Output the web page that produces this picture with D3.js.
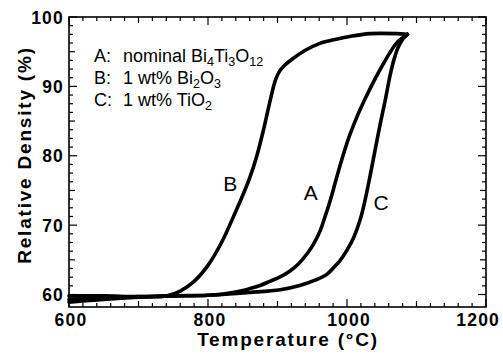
<!DOCTYPE html>
<meta charset="utf-8">
<style>
    body { margin: 0; background: #fff; }
    text { font-family: "Liberation Sans", Arial, sans-serif; fill: #000; }
    .tick-label { font-size: 17.5px; font-weight: bold; letter-spacing: 1.2px; }
    .axis-title { font-size: 19px; font-weight: bold; letter-spacing: 1.8px; }
    .legend { font-size: 18px; }
    .curve-label { font-size: 21px; }
</style>
<body>
<script src="https://d3js.org/d3.v7.min.js"></script>
<script>
    // curve A: nominal Bi4Ti3O12
    var tempA = [600, 650, 700, 750, 800, 820, 840, 860, 875, 889, 903, 918, 930, 942, 952, 961, 969, 976, 983, 990, 997, 1004, 1016, 1028, 1040, 1052, 1062, 1071, 1080, 1087];
    var densA = [59.3, 59.5, 59.7, 59.8, 59.9, 60.05, 60.35, 60.85, 61.3, 61.9, 62.5, 63.4, 64.4, 65.8, 67.3, 69.1, 71.4, 73.6, 76.1, 78.6, 80.9, 83.0, 86.0, 88.6, 91.0, 93.2, 94.9, 96.2, 97.0, 97.5];

    // curve B: 1 wt% Bi2O3
    var tempB = [600, 650, 700, 740, 760, 780, 800, 820, 840, 850, 860, 870, 880, 890, 897, 903, 910, 918, 940, 961, 985, 1004, 1033, 1071, 1087];
    var densB = [59.8, 59.8, 59.7, 59.8, 60.5, 61.9, 64.2, 67.6, 72.0, 74.3, 76.8, 79.9, 83.8, 88.2, 90.9, 92.2, 93.0, 93.7, 95.2, 96.2, 96.8, 97.2, 97.6, 97.6, 97.5];

    // curve C: 1 wt% TiO2
    var tempC = [600, 650, 700, 750, 800, 860, 904, 932, 955, 971, 980, 990, 1000, 1010, 1019, 1026, 1033, 1040, 1047, 1055, 1062, 1068, 1074, 1081, 1087];
    var densC = [58.9, 59.3, 59.6, 59.8, 59.9, 60.3, 60.7, 61.3, 62.1, 62.9, 63.8, 64.9, 66.4, 68.3, 70.8, 73.6, 77.0, 80.6, 84.2, 88.0, 91.6, 94.0, 95.7, 96.9, 97.5];

    var xTickLabels = [600, 800, 1000, 1200];
    var yTickLabels = [60, 70, 80, 90, 100];

    var curveNames = ["A", "B", "C"];
    var labelTemps = [948, 832, 1049];
    var labelDens = [73.6, 74.9, 72.2];

    var legendKeys = ["A:", "B:", "C:"];

    var width = 503,
        height = 361;
    var margin = { top: 17, right: 17, bottom: 54, left: 69 };

    var x = d3.scaleLinear().domain([600, 1200]).range([margin.left, width - margin.right]);
    var y = d3.scaleLinear().domain([58.2, 100]).range([height - margin.bottom, margin.top]);

    var svg = d3.select("body").append("svg")
        .attr("width", width)
        .attr("height", height);

    var x0 = x.range()[0], x1 = x.range()[1];
    var y0 = y.range()[0], y1 = y.range()[1];

    // inward ticks on all four sides
    var xTicks = d3.range(600, 1201, 20);
    function xLen(t) { return t % 200 == 0 ? 8 : (t % 100 == 0 ? 6 : 4); }
    var yTicks = d3.range(60, 100.01, 1.25);
    function yLen(v) { return v % 10 == 0 ? 8 : (v % 5 == 0 ? 6 : 4); }

    var ticks = svg.append("g").attr("stroke", "#000").attr("stroke-width", 1.2);
    xTicks.forEach(function (t) {
        ticks.append("line").attr("x1", x(t)).attr("x2", x(t)).attr("y1", y0).attr("y2", y0 - xLen(t));
        ticks.append("line").attr("x1", x(t)).attr("x2", x(t)).attr("y1", y1).attr("y2", y1 + xLen(t));
    });
    yTicks.forEach(function (v) {
        ticks.append("line").attr("x1", x0).attr("x2", x0 + yLen(v)).attr("y1", y(v)).attr("y2", y(v));
        ticks.append("line").attr("x1", x1).attr("x2", x1 - yLen(v)).attr("y1", y(v)).attr("y2", y(v));
    });

    svg.append("rect")
        .attr("x", x0).attr("y", y1)
        .attr("width", x1 - x0).attr("height", y0 - y1)
        .attr("fill", "none").attr("stroke", "#000").attr("stroke-width", 1.6);

    // tick labels
    svg.selectAll(".xl")
        .data(xTickLabels)
        .enter().append("text")
        .attr("class", "tick-label")
        .attr("x", function (d) { return d == 1200 ? x(d) + 14 : x(d) + 2; })
        .attr("y", 326)
        .attr("text-anchor", function (d) { return d == 1200 ? "end" : "middle"; })
        .text(function (d) { return d; });

    svg.selectAll(".yl")
        .data(yTickLabels)
        .enter().append("text")
        .attr("class", "tick-label")
        .attr("x", 64)
        .attr("y", function (d) { return y(d) + 6.5; })
        .attr("text-anchor", "end")
        .text(function (d) { return d; });

    svg.append("text")
        .attr("class", "axis-title")
        .attr("x", 288).attr("y", 346)
        .attr("text-anchor", "middle")
        .text("Temperature (°C)");

    svg.append("text")
        .attr("class", "axis-title")
        .attr("transform", "translate(31,155) rotate(-90)")
        .attr("text-anchor", "middle")
        .text("Relative Density (%)");

    // curves
    var line = d3.line()
        .x(function (d) { return x(d[0]); })
        .y(function (d) { return y(d[1]); })
        .curve(d3.curveCatmullRom.alpha(0.5));

    var series = [d3.zip(tempA, densA), d3.zip(tempB, densB), d3.zip(tempC, densC)];

    svg.append("g").selectAll("path")
        .data(series)
        .enter().append("path")
        .attr("d", line)
        .attr("fill", "none")
        .attr("stroke", "#000")
        .attr("stroke-width", 3.6)
        .attr("stroke-linejoin", "round")
        .attr("stroke-linecap", "round");

    svg.selectAll(".cl")
        .data(curveNames)
        .enter().append("text")
        .attr("class", "curve-label")
        .attr("x", function (d, i) { return x(labelTemps[i]); })
        .attr("y", function (d, i) { return y(labelDens[i]); })
        .attr("text-anchor", "middle")
        .text(function (d) { return d; });

    // legend
    var legY = [62, 84, 106];
    svg.selectAll(".lk")
        .data(legendKeys)
        .enter().append("text")
        .attr("class", "legend")
        .attr("x", 94)
        .attr("y", function (d, i) { return legY[i]; })
        .text(function (d) { return d; });

    // each entry: list of [text, isSubscript]
    var legendParts = [
        [["nominal Bi", 0], ["4", 1], ["Ti", 0], ["3", 1], ["O", 0], ["12", 1]],
        [["1 wt% Bi", 0], ["2", 1], ["O", 0], ["3", 1]],
        [["1 wt% TiO", 0], ["2", 1]]
    ];
    legendParts.forEach(function (parts, i) {
        var t = svg.append("text").attr("class", "legend").attr("x", 123).attr("y", legY[i]);
        var shifted = false;
        parts.forEach(function (p) {
            var ts = t.append("tspan").text(p[0]);
            if (p[1]) {
                ts.attr("font-size", "12.5px").attr("dy", shifted ? 0 : 4);
                shifted = true;
            } else {
                if (shifted) ts.attr("dy", -4);
                shifted = false;
            }
        });
    });
</script>
</body>
